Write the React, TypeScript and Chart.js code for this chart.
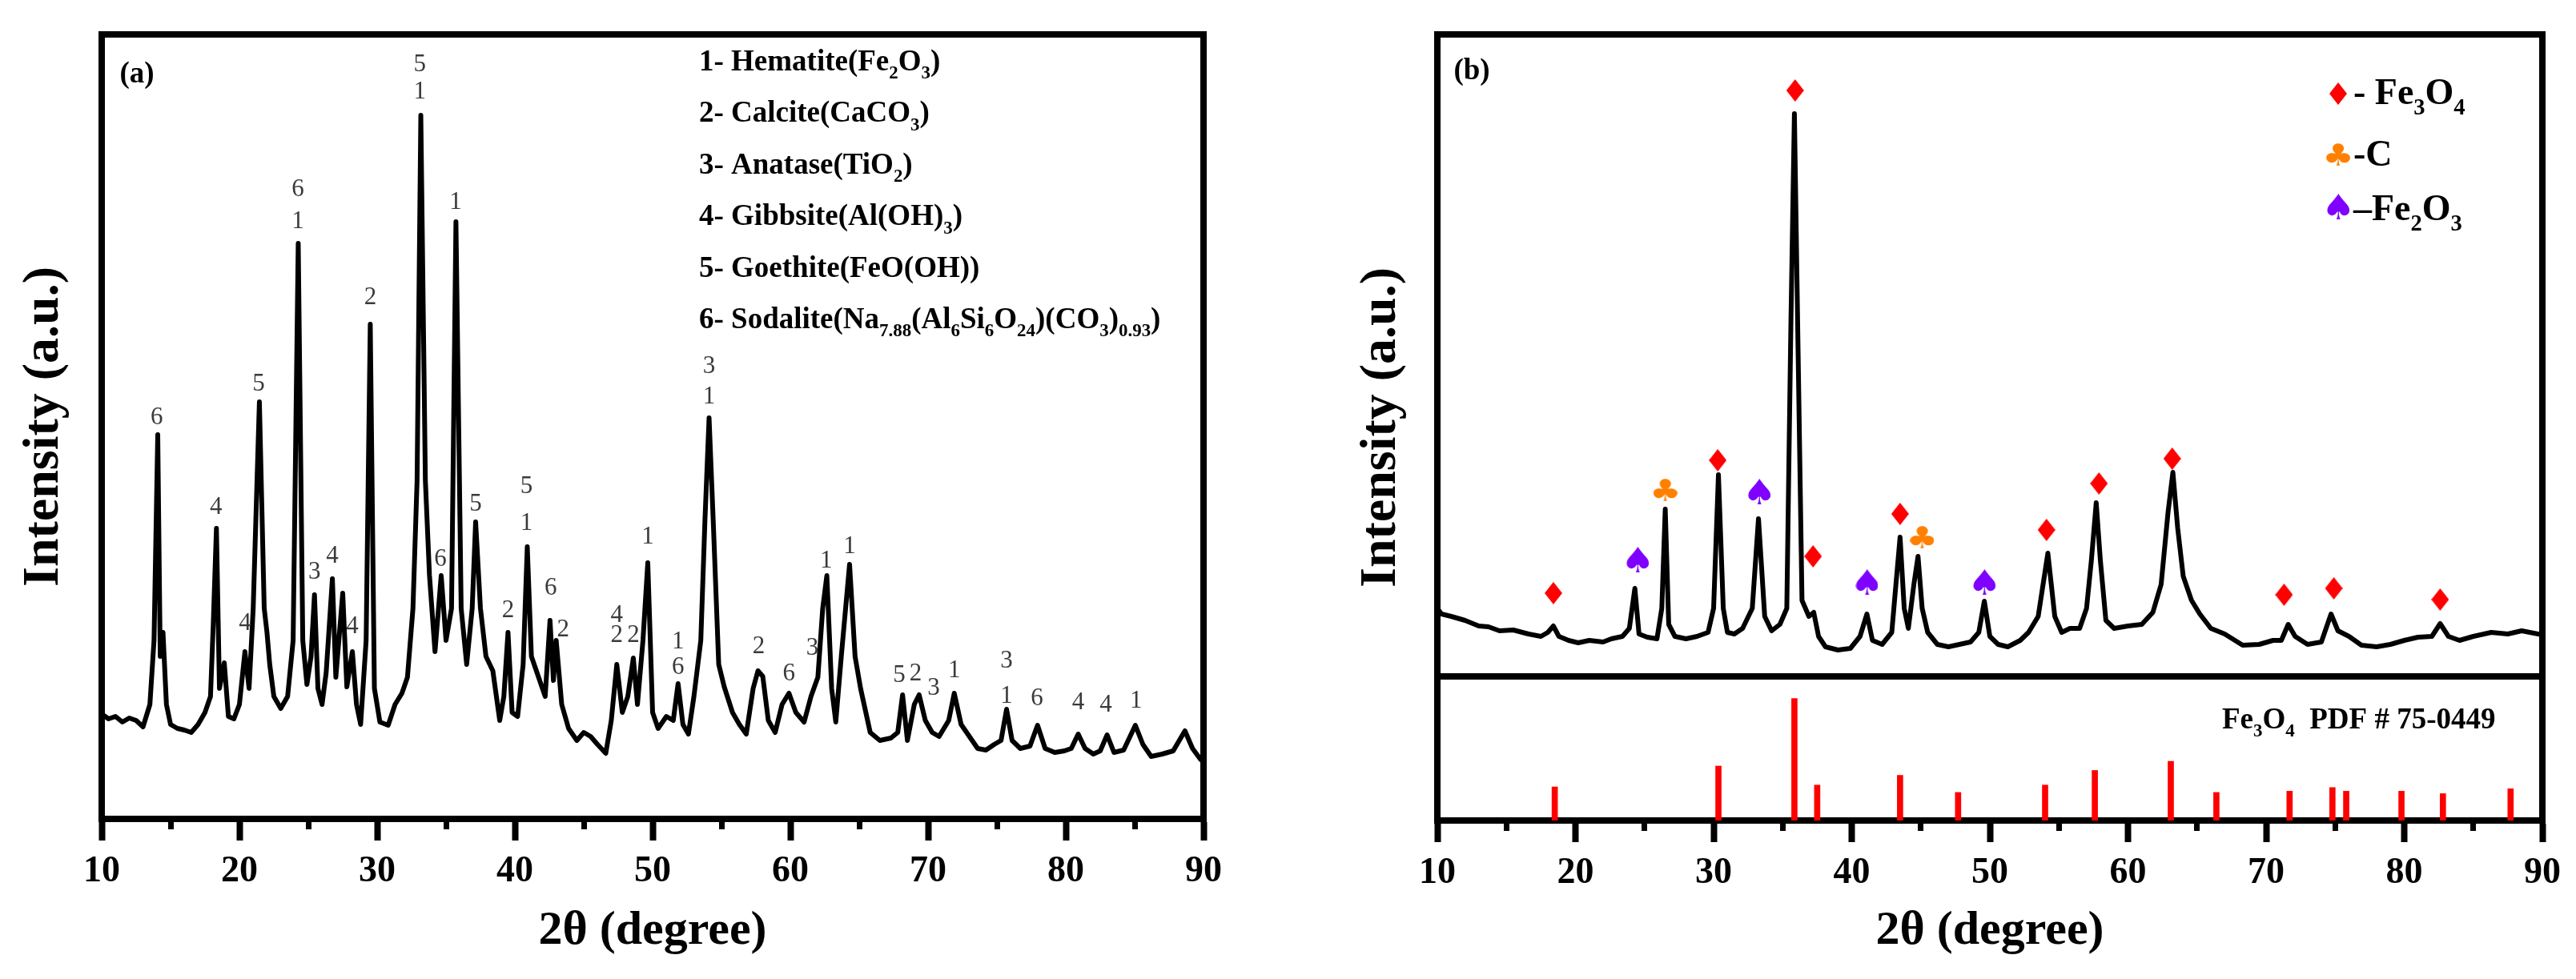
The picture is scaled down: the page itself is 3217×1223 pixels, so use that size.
import React, { useEffect, useRef } from 'react';
import { Chart, registerables } from 'chart.js';

Chart.register(...registerables);

const SERIF = '"Liberation Serif", "Times New Roman", Times, serif';

// ---------------- Shared axis ----------------
const twoThetaMin = 10;
const twoThetaMax = 90;
const majorStep = 10;
const minorStep = 5;
const xTitle = '2θ (degree)';
const yTitle = 'Intensity (a.u.)';

// ---------------- Panel (a): red mud scan, [2θ (deg), intensity (a.u.)] ----------------
const scanA: [number, number][] = [
  [10.0, 131], [10.5, 125], [11.0, 128], [11.5, 121], [12.0, 126], [12.5, 123], [13.0, 115], [13.5, 143],
  [13.8, 223], [14.07, 480], [14.25, 203], [14.45, 233], [14.7, 143], [15.0, 118], [15.5, 113], [16.0, 111],
  [16.5, 108], [17.0, 118], [17.5, 133], [17.9, 153], [18.1, 243], [18.33, 363], [18.55, 163], [18.9, 195],
  [19.2, 128], [19.6, 125], [20.0, 143], [20.4, 209], [20.7, 163], [21.0, 263], [21.45, 521], [21.8, 263],
  [22.0, 233], [22.2, 193], [22.5, 153], [23.0, 138], [23.5, 153], [23.9, 223], [24.27, 719], [24.6, 223],
  [24.9, 168], [25.2, 203], [25.45, 280], [25.7, 163], [26.0, 143], [26.3, 183], [26.75, 300], [27.0, 177],
  [27.5, 282], [27.8, 165], [28.2, 209], [28.5, 143], [28.8, 118], [29.2, 223], [29.5, 618], [29.8, 163],
  [30.2, 121], [30.8, 117], [31.3, 143], [31.8, 157], [32.2, 177], [32.6, 263], [32.9, 423], [33.17, 879],
  [33.5, 423], [33.8, 304], [34.2, 209], [34.65, 304], [35.0, 223], [35.4, 263], [35.72, 746], [36.1, 263],
  [36.5, 193], [36.9, 263], [37.15, 371], [37.5, 263], [37.9, 203], [38.4, 185], [38.9, 123], [39.2, 153],
  [39.5, 233], [39.8, 133], [40.2, 128], [40.6, 193], [40.9, 340], [41.2, 203], [41.6, 183], [42.2, 153],
  [42.55, 248], [42.8, 173], [43.0, 223], [43.4, 143], [43.9, 113], [44.5, 98], [45.0, 108], [45.5, 103],
  [46.0, 93], [46.6, 82], [47.0, 123], [47.4, 193], [47.8, 133], [48.2, 153], [48.6, 201], [48.9, 143],
  [49.3, 223], [49.65, 320], [50.0, 133], [50.4, 113], [51.0, 128], [51.5, 123], [51.85, 169], [52.2, 118],
  [52.6, 106], [53.0, 153], [53.5, 223], [53.8, 373], [54.1, 501], [54.4, 373], [54.8, 193], [55.2, 165],
  [55.8, 133], [56.3, 118], [56.8, 106], [57.3, 163], [57.65, 185], [58.0, 178], [58.4, 123], [58.9, 108],
  [59.4, 143], [59.9, 157], [60.4, 133], [61.0, 121], [61.5, 153], [62.0, 177], [62.35, 263], [62.65, 304],
  [63.0, 163], [63.3, 121], [63.7, 203], [64.3, 318], [64.7, 203], [65.1, 163], [65.8, 108], [66.5, 98],
  [67.3, 101], [67.8, 108], [68.15, 155], [68.5, 98], [69.0, 143], [69.35, 155], [69.8, 123], [70.3, 108],
  [70.8, 103], [71.5, 123], [71.9, 157], [72.4, 118], [73.0, 103], [73.6, 88], [74.2, 86], [74.8, 93],
  [75.3, 98], [75.7, 137], [76.1, 98], [76.7, 88], [77.4, 91], [77.95, 117], [78.5, 88], [79.2, 83],
  [79.9, 85], [80.4, 88], [80.9, 106], [81.4, 88], [82.0, 81], [82.5, 85], [83.0, 105], [83.5, 83],
  [84.2, 86], [85.05, 117], [85.6, 93], [86.2, 78], [87.0, 81], [87.8, 85], [88.65, 110], [89.2, 88],
  [89.8, 74], [90.0, 75],
];
const intensityMaxA = 980;

// phase index labels above peaks in (a)
const peakLabelAngleA = [
  14.0, 18.3, 20.4, 21.4, 24.25, 24.25, 25.45, 26.75, 28.2, 29.5, 33.1, 33.1, 34.6, 35.7, 37.15,
  39.5, 40.85, 40.85, 42.6, 43.5, 47.4, 47.4, 48.6, 49.65, 51.85, 51.85, 54.1, 54.1, 57.7, 59.9,
  61.6, 62.6, 64.3, 67.9, 69.1, 70.4, 71.9, 75.7, 75.7, 77.9, 80.9, 82.9, 85.1,
];
const peakLabelLevelA = [
  501, 389, 244, 543, 786, 746, 308, 328, 240, 651, 942, 908, 324, 770, 393,
  260, 415, 369, 288, 236, 254, 229, 229, 352, 221, 189, 565, 527, 215, 181,
  213, 322, 340, 179, 181, 163, 185, 197, 153, 150, 145, 142, 147,
];
const peakLabelTextA = [
  '6', '4', '4', '5', '6', '1', '3', '4', '4', '2', '5', '1', '6', '1', '5',
  '2', '5', '1', '6', '2', '4', '2', '2', '1', '1', '6', '3', '1', '2', '6',
  '3', '1', '1', '5', '2', '3', '1', '3', '1', '6', '4', '4', '1',
];

type Seg = [string, boolean]; // [text, subscript?]
const phaseLegendA: Seg[][] = [
  [['1- Hematite(Fe', false], ['2', true], ['O', false], ['3', true], [')', false]],
  [['2- Calcite(CaCO', false], ['3', true], [')', false]],
  [['3- Anatase(TiO', false], ['2', true], [')', false]],
  [['4- Gibbsite(Al(OH)', false], ['3', true], [')', false]],
  [['5- Goethite(FeO(OH))', false]],
  [['6- Sodalite(Na', false], ['7.88', true], ['(Al', false], ['6', true], ['Si', false], ['6', true], ['O', false], ['24', true], [')(CO', false], ['3', true], [')', false], ['0.93', true], [')', false]],
];

// ---------------- Panel (b): product scan ----------------
const scanB: [number, number][] = [
  [10.0, 85], [10.3, 78], [11.0, 75], [12.0, 70], [13.0, 63], [13.7, 62], [14.5, 57], [15.5, 58],
  [16.6, 53], [17.5, 50], [18.0, 55], [18.4, 63], [18.8, 50], [19.5, 45], [20.2, 42], [21.0, 45],
  [22.0, 43], [22.6, 47], [23.4, 50], [23.9, 60], [24.3, 110], [24.6, 53], [25.2, 49], [25.9, 47],
  [26.25, 85], [26.5, 209], [26.75, 65], [27.2, 50], [28.0, 47], [28.8, 50], [29.6, 55], [30.0, 85],
  [30.35, 252], [30.7, 85], [31.0, 55], [31.5, 53], [32.1, 60], [32.8, 85], [33.25, 197], [33.7, 75],
  [34.2, 57], [34.8, 65], [35.3, 85], [35.6, 445], [35.85, 703], [36.1, 425], [36.4, 95], [36.9, 75],
  [37.25, 80], [37.6, 50], [38.1, 37], [39.0, 33], [39.9, 35], [40.6, 50], [41.1, 78], [41.5, 45],
  [42.2, 40], [42.9, 55], [43.2, 115], [43.5, 174], [43.8, 85], [44.1, 60], [44.5, 115], [44.8, 150],
  [45.1, 85], [45.5, 55], [46.2, 40], [47.0, 37], [47.8, 40], [48.6, 43], [49.2, 55], [49.6, 94],
  [50.0, 50], [50.6, 40], [51.3, 37], [52.2, 45], [52.8, 55], [53.5, 75], [54.2, 154], [54.7, 75],
  [55.2, 55], [55.8, 60], [56.5, 60], [57.0, 85], [57.35, 145], [57.7, 217], [58.0, 145], [58.4, 70],
  [59.0, 60], [60.0, 63], [61.0, 65], [61.8, 80], [62.4, 115], [62.9, 205], [63.25, 255], [63.6, 185],
  [64.0, 125], [64.6, 95], [65.2, 78], [66.0, 60], [67.0, 53], [68.3, 39], [69.5, 40], [70.5, 45],
  [71.1, 45], [71.6, 65], [72.1, 50], [73.0, 40], [74.0, 43], [74.7, 78], [75.2, 57], [76.0, 50],
  [76.9, 39], [78.0, 37], [79.0, 40], [80.0, 45], [81.0, 49], [82.0, 50], [82.6, 66], [83.2, 50],
  [84.0, 45], [85.0, 50], [86.3, 55], [87.5, 53], [88.5, 57], [90.0, 52],
];
const intensityMaxB = 802;

// Fe3O4 reference pattern PDF # 75-0449 (relative intensity)
const refAngleB = [18.5, 30.35, 35.85, 37.5, 43.5, 47.7, 54.0, 57.6, 63.1, 66.4, 71.7, 74.8, 75.8, 79.8, 82.8, 87.7];
const refIntensityB = [27.5, 44.6, 100, 29, 37, 23, 29, 41, 48.5, 23, 24, 27, 24, 24, 22, 26];
const refIntensityMax = 118;
const refLabel: Seg[] = [['Fe', false], ['3', true], ['O', false], ['4', true], ['  PDF # 75-0449', false]];

// phase markers in (b)
const fe3o4AngleB = [18.4, 30.3, 35.9, 37.2, 43.5, 54.1, 57.9, 63.2, 71.3, 74.9, 82.6];
const fe3o4LevelB = [104, 270, 732, 150, 203, 183, 241, 272, 102, 110, 96];
const carbonAngleB = [26.5, 45.1];
const carbonLevelB = [233, 174];
const hematiteAngleB = [24.5, 33.3, 41.1, 49.6];
const hematiteLevelB = [146, 231, 118, 118];

const legendB: { mark: 'diamond' | 'club' | 'spade'; segs: Seg[] }[] = [
  { mark: 'diamond', segs: [['- Fe', false], ['3', true], ['O', false], ['4', true]] },
  { mark: 'club', segs: [['-C', false]] },
  { mark: 'spade', segs: [['\u2013Fe', false], ['2', true], ['O', false], ['3', true]] },
];

const RED = '#ff0000';
const ORANGE = '#ff8000';
const PURPLE = '#7f00ff';

// ---------------- helpers ----------------
function drawRich(ctx: CanvasRenderingContext2D, segs: Seg[], x: number, y: number, size: number) {
  let cx = x;
  for (const [t, sub] of segs) {
    const s = sub ? size * 0.62 : size;
    ctx.font = `bold ${s}px ${SERIF}`;
    ctx.fillText(t, cx, sub ? y + size * 0.28 : y);
    cx += ctx.measureText(t).width;
  }
}

function markImage(kind: 'diamond' | 'club' | 'spade', color: string, w: number, h: number) {
  const c = document.createElement('canvas');
  c.width = w;
  c.height = h;
  const g = c.getContext('2d')!;
  g.fillStyle = color;
  if (kind === 'diamond') {
    g.beginPath();
    g.moveTo(w / 2, 0);
    g.lineTo(w, h / 2);
    g.lineTo(w / 2, h);
    g.lineTo(0, h / 2);
    g.closePath();
    g.fill();
  } else {
    const ch = kind === 'club' ? '\u2663' : '\u2660';
    g.font = '100px "DejaVu Sans"';
    const m = g.measureText(ch);
    const gw = m.actualBoundingBoxLeft + m.actualBoundingBoxRight;
    const gh = m.actualBoundingBoxAscent + m.actualBoundingBoxDescent;
    g.setTransform(w / gw, 0, 0, h / gh, 0, 0);
    g.fillText(ch, m.actualBoundingBoxLeft, m.actualBoundingBoxAscent);
  }
  return c;
}

const frameBorder = { display: true, width: 8, color: '#000' };
const tickFont = { family: SERIF, size: 46, weight: 'bold' as const };
const titleFontX = { family: SERIF, size: 60, weight: 'bold' as const };
const titleFontY = { family: SERIF, size: 64, weight: 'bold' as const };

function xScales(bottomHeight: number) {
  return {
    x: {
      type: 'linear', axis: 'x', position: 'bottom', weight: 1, offset: false,
      min: twoThetaMin, max: twoThetaMax,
      ticks: { stepSize: majorStep, maxTicksLimit: 100, font: tickFont, color: '#000', padding: 12, maxRotation: 0, autoSkip: false },
      grid: { display: true, offset: false, drawOnChartArea: false, drawTicks: true, tickLength: 27, tickWidth: 8, tickColor: '#000' },
      border: frameBorder,
      title: { display: true, text: xTitle, font: titleFontX, color: '#000', padding: { top: 0, bottom: 24 } },
      afterFit: (s: any) => { s.height = bottomHeight; },
    },
    xMinor: {
      type: 'linear', axis: 'x', position: 'bottom', weight: 0, offset: false,
      min: twoThetaMin, max: twoThetaMax,
      ticks: { stepSize: minorStep, maxTicksLimit: 100, display: false },
      grid: { display: true, offset: false, drawOnChartArea: false, drawTicks: true, tickLength: 13, tickWidth: 7, tickColor: '#000' },
      border: { display: false },
      afterFit: (s: any) => { s.height = 0; },
    },
    xTop: {
      type: 'linear', axis: 'x', position: 'top', offset: false,
      min: twoThetaMin, max: twoThetaMax,
      ticks: { display: false }, grid: { display: false, offset: false }, border: frameBorder,
      afterFit: (s: any) => { s.height = 0; },
    },
    yRight: {
      type: 'linear', axis: 'y', position: 'right', min: 0, max: 1,
      ticks: { display: false }, grid: { display: false }, border: frameBorder,
      afterFit: (s: any) => { s.width = 0; },
    },
  };
}

export default function App() {
  const refA = useRef<HTMLCanvasElement>(null);
  const refB = useRef<HTMLCanvasElement>(null);

  useEffect(() => {
    document.body.style.margin = '0';

    // ---------- panel (a) ----------
    const annotateA = {
      id: 'annotateA',
      afterDatasetsDraw(chart: any) {
        const { ctx, chartArea, scales } = chart;
        const x = scales.x;
        const y = scales.y;
        ctx.save();
        ctx.fillStyle = '#3a3a3a';
        ctx.font = `31px ${SERIF}`;
        ctx.textAlign = 'center';
        ctx.textBaseline = 'middle';
        peakLabelTextA.forEach((t, i) => {
          ctx.fillText(t, x.getPixelForValue(peakLabelAngleA[i]), y.getPixelForValue(peakLabelLevelA[i]));
        });
        ctx.fillStyle = '#000';
        ctx.font = `bold 37px ${SERIF}`;
        ctx.fillText('(a)', chartArea.left + 44, chartArea.top + 50);
        ctx.textAlign = 'left';
        ctx.textBaseline = 'alphabetic';
        phaseLegendA.forEach((segs, i) => drawRich(ctx, segs, chartArea.left + 746, chartArea.top + 45 + i * 64.4, 37));
        ctx.restore();
      },
    };

    const chartA = new Chart(refA.current!, {
      type: 'line',
      data: {
        datasets: [
          {
            label: 'Red mud',
            data: scanA.map(([x, y]) => ({ x, y })),
            xAxisID: 'x', yAxisID: 'y',
            borderColor: '#000', borderWidth: 6, borderJoinStyle: 'round',
            pointRadius: 0, tension: 0, fill: false,
          } as any,
        ],
      },
      options: {
        responsive: false, maintainAspectRatio: false, animation: false, devicePixelRatio: 1, events: [],
        layout: { padding: { left: 0, right: 97, top: 43, bottom: 0 } },
        plugins: { legend: { display: false }, tooltip: { enabled: false } },
        scales: {
          ...xScales(200),
          y: {
            type: 'linear', axis: 'y', position: 'left', min: 0, max: intensityMaxA,
            ticks: { display: false }, grid: { display: false }, border: frameBorder,
            title: { display: true, text: yTitle, font: titleFontY, color: '#000', padding: { top: 17, bottom: 0 } },
            afterFit: (s: any) => { s.width = 127; },
          },
        } as any,
      },
      plugins: [annotateA],
    } as any);

    // ---------- panel (b) ----------
    const diamond = markImage('diamond', RED, 22, 28);
    const club = markImage('club', ORANGE, 30, 28);
    const spade = markImage('spade', PURPLE, 28, 32);
    const imgs: Record<string, HTMLCanvasElement> = { diamond, club, spade };

    const annotateB = {
      id: 'annotateB',
      afterDatasetsDraw(chart: any) {
        const { ctx, chartArea, scales } = chart;
        const yDiv = scales.yPattern.top;
        ctx.save();
        ctx.strokeStyle = '#000';
        ctx.lineWidth = 8;
        ctx.beginPath();
        ctx.moveTo(chartArea.left, yDiv);
        ctx.lineTo(chartArea.right, yDiv);
        ctx.stroke();

        ctx.fillStyle = '#000';
        ctx.font = `bold 37px ${SERIF}`;
        ctx.textAlign = 'center';
        ctx.textBaseline = 'middle';
        ctx.fillText('(b)', chartArea.left + 43, chartArea.top + 46);

        ctx.textAlign = 'left';
        ctx.textBaseline = 'alphabetic';
        const rowCenter = [74, 150, 215];
        const rowBase = [87, 164, 232];
        legendB.forEach((row, i) => {
          const im = imgs[row.mark];
          const cx = chartArea.right - 255;
          const cy = chartArea.top + rowCenter[i];
          ctx.drawImage(im, cx - im.width / 2, cy - im.height / 2);
          drawRich(ctx, row.segs, chartArea.right - 236, chartArea.top + rowBase[i], 46);
        });

        drawRich(ctx, refLabel, chartArea.right - 400, yDiv + 65, 37);
        ctx.restore();
      },
    };

    const chartB = new Chart(refB.current!, {
      type: 'line',
      data: {
        datasets: [
          {
            label: 'Product',
            data: scanB.map(([x, y]) => ({ x, y })),
            xAxisID: 'x', yAxisID: 'yCurve',
            borderColor: '#000', borderWidth: 6, borderJoinStyle: 'round',
            pointRadius: 0, tension: 0, fill: false,
          },
          {
            type: 'bar',
            label: 'Fe3O4 PDF # 75-0449',
            data: refAngleB.map((x, i) => ({ x, y: refIntensityB[i] })),
            xAxisID: 'x', yAxisID: 'yPattern',
            backgroundColor: RED, barThickness: 7, borderWidth: 0,
          },
          {
            type: 'scatter',
            label: 'Fe3O4',
            data: fe3o4AngleB.map((x, i) => ({ x, y: fe3o4LevelB[i] })),
            xAxisID: 'x', yAxisID: 'yCurve',
            pointStyle: diamond, pointRadius: 12,
          },
          {
            type: 'scatter',
            label: 'C',
            data: carbonAngleB.map((x, i) => ({ x, y: carbonLevelB[i] })),
            xAxisID: 'x', yAxisID: 'yCurve',
            pointStyle: club, pointRadius: 12,
          },
          {
            type: 'scatter',
            label: 'Fe2O3',
            data: hematiteAngleB.map((x, i) => ({ x, y: hematiteLevelB[i] })),
            xAxisID: 'x', yAxisID: 'yCurve',
            pointStyle: spade, pointRadius: 12,
          },
        ] as any,
      },
      options: {
        responsive: false, maintainAspectRatio: false, animation: false, devicePixelRatio: 1, events: [],
        layout: { padding: { left: 0, right: 42, top: 43, bottom: 0 } },
        plugins: { legend: { display: false }, tooltip: { enabled: false } },
        scales: {
          ...xScales(198),
          yTitle: {
            type: 'linear', axis: 'y', position: 'left', weight: 2, min: 0, max: 1,
            ticks: { display: false }, grid: { display: false }, border: frameBorder,
            title: { display: true, text: yTitle, font: titleFontY, color: '#000', padding: { top: 87, bottom: 0 } },
            afterFit: (s: any) => { s.width = 195; },
          },
          yCurve: {
            type: 'linear', axis: 'y', position: 'left', weight: 1, stack: 'b', stackWeight: 802,
            min: 0, max: intensityMaxB,
            ticks: { display: false }, grid: { display: false }, border: { display: false },
            afterFit: (s: any) => { s.width = 0; },
          },
          yPattern: {
            type: 'linear', axis: 'y', position: 'left', weight: 0, stack: 'b', stackWeight: 180,
            min: 0, max: refIntensityMax,
            ticks: { display: false }, grid: { display: false }, border: { display: false },
            afterFit: (s: any) => { s.width = 0; },
          },
        } as any,
      },
      plugins: [annotateB],
    } as any);

    return () => {
      chartA.destroy();
      chartB.destroy();
    };
  }, []);

  return (
    <div style={{ position: 'absolute', left: 0, top: 0, width: 3217, height: 1223, background: '#fff' }}>
      <canvas ref={refA} width={1600} height={1223} style={{ position: 'absolute', left: 0, top: 0, width: 1600, height: 1223 }} />
      <canvas ref={refB} width={1617} height={1223} style={{ position: 'absolute', left: 1600, top: 0, width: 1617, height: 1223 }} />
    </div>
  );
}
